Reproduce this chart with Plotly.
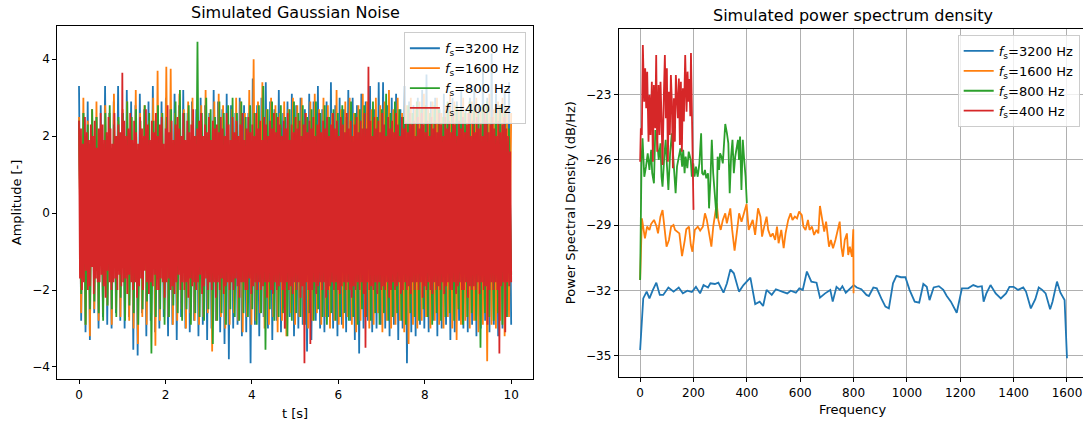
import numpy as np
import plotly.graph_objects as go

W, H = 1083, 423
C_BLUE, C_ORANGE, C_GREEN, C_RED = "#1f77b4", "#ff7f0e", "#2ca02c", "#d62728"
FONT = "DejaVu Sans"

labels = ["<i>f</i><sub>s</sub>=3200 Hz", "<i>f</i><sub>s</sub>=1600 Hz",
          "<i>f</i><sub>s</sub>=800 Hz", "<i>f</i><sub>s</sub>=400 Hz"]

# ---- left panel: noise amplitudes (hand-read, decimated) ----
noise_3200 = [3.3,-2.8,2.6,-3.1,2.9,-3.3,2.7,-2.6,2.5,-3.0,2.8,-2.7,3.3,-2.9,2.6,-3.0,2.9,-2.6,3.3,-2.8,
              2.6,-3.0,3.2,-2.7,2.9,-3.55,2.8,-3.7,3.1,-2.6,2.7,-3.2,2.9,-2.8,3.3,-3.1,2.6,-3.0,2.9,-2.7,
              3.0,-3.2,2.7,-2.9,3.1,-3.3,2.8,-2.7,3.2,-3.0,2.6,-3.1,2.9,-2.8,2.7,-3.2,3.0,-2.9,2.8,-3.3,
              2.6,-3.0,3.2,-2.8,2.9,-3.1,2.7,-3.4,3.1,-3.8,2.8,-3.0,2.6,-2.9,3.0,-3.2,2.8,-3.1,2.6,-3.9,
              3.5,-2.9,2.8,-3.2,3.0,-2.7,3.4,-3.0,2.9,-3.3,2.7,-2.8,3.2,-3.1,2.6,-3.0,2.9,-2.7,3.1,-3.2,
              2.8,-3.0,3.0,-2.9,2.7,-3.6,3.1,-3.3,2.9,-2.8,3.3,-3.0,2.7,-3.1,2.9,-2.7,3.4,-3.0,2.8,-3.2,
              3.0,-2.9,2.7,-3.1,3.2,-2.8,3.0,-3.3,2.8,-3.65,3.1,-3.0,2.9,-2.8,3.3,-3.1,2.7,-3.0,3.4,-2.9,
              3.4,-3.0,2.8,-3.2,3.0,-2.9,3.1,-3.3,2.7,-3.0,3.3,-3.9,2.9,-3.1,2.8,-3.2,3.0,-2.9,3.2,-3.0,
              3.6,-3.1,2.9,-2.8,3.0,-3.2,2.7,-3.0,3.1,-2.9,2.8,-3.3,3.0,-3.1,2.9,-2.8,3.2,-3.0,2.7,-3.1,
              3.0,-2.9,3.3,-3.2,2.8,-3.0,3.8,-2.8,3.0,-3.1,4.15,-2.9,3.1,-3.2,2.8,-3.0,3.2,-2.7,3.4,-2.9]
noise_1600 = [2.5,-2.6,3.0,-2.9,2.4,-3.2,2.7,-2.5,2.9,-2.8,2.3,-2.6,2.8,-2.4,2.6,-2.9,3.1,-2.5,2.4,-2.7,
              2.7,-2.5,2.9,-2.8,2.5,-3.0,3.2,-3.4,2.6,-2.7,2.8,-2.9,2.4,-2.6,3.0,-3.45,3.7,-2.8,2.6,-2.5,
              3.8,-2.7,3.75,-2.9,2.6,-2.8,3.1,-2.5,2.7,-3.0,2.9,-2.6,3.0,-2.8,2.5,-2.9,2.8,-2.7,3.2,-2.6,
              2.6,-3.6,2.9,-2.8,3.1,-2.7,2.8,-3.0,2.5,-2.9,2.7,-2.6,3.0,-2.8,2.9,-3.1,2.6,-2.7,3.2,-2.9,
              4.0,-2.8,2.9,-2.6,3.4,-3.0,2.7,-2.9,3.0,-2.7,2.8,-3.1,2.6,-2.8,2.9,-3.2,2.7,-2.6,3.0,-2.9,
              2.8,-2.7,3.0,-2.9,2.6,-3.0,2.9,-2.8,3.1,-2.6,2.7,-2.9,3.0,-2.7,2.8,-3.0,2.6,-2.8,3.2,-2.9,
              2.7,-3.0,2.9,-2.7,3.0,-2.9,2.6,-3.1,2.8,-2.8,3.1,-2.7,2.9,-3.0,2.7,-2.9,3.0,-2.6,2.8,-3.1,
              2.9,-2.8,3.2,-3.0,2.7,-2.9,3.0,-2.8,2.6,-3.1,2.8,-3.4,3.0,-2.9,2.7,-3.0,2.9,-2.8,3.1,-2.7,
              2.7,-3.0,2.9,-2.8,3.0,-2.9,2.6,-3.0,2.8,-2.7,3.1,-3.0,2.9,-3.3,2.7,-2.9,3.0,-2.8,2.6,-3.0,
              2.9,-2.8,3.0,-3.1,2.7,-2.9,2.8,-3.85,3.1,-2.9,2.7,-3.0,2.9,-2.8,3.0,-3.2,2.8,-2.7,2.6]
noise_800 = [2.4,-2.1,2.6,-2.9,2.3,-2.5,2.7,-2.3,2.5,-2.6,2.2,-2.8,2.6,-2.4,2.8,-2.5,2.3,-2.7,2.5,-2.2,
             2.6,-2.8,2.9,-2.4,2.5,-2.6,2.7,-2.9,2.4,-2.5,2.8,-2.3,2.6,-3.65,2.4,-2.7,2.8,-2.5,2.6,-2.9,
             2.5,-2.7,2.7,-2.4,2.9,-2.6,3.2,-2.8,2.6,-2.5,2.8,-2.9,2.4,-2.6,4.45,-2.7,2.6,-2.8,3.0,-2.5,
             2.7,-3.4,2.5,-2.8,2.9,-2.6,2.6,-2.9,2.8,-2.5,3.0,-2.7,2.6,-2.8,2.9,-2.6,2.5,-2.7,2.8,-2.5,
             2.6,-2.9,2.8,-2.6,3.3,-3.55,2.7,-2.5,2.9,-2.8,2.6,-2.7,2.8,-2.6,2.5,-3.2,2.7,-2.8,2.9,-2.6,
             2.6,-2.7,2.8,-2.9,2.5,-2.6,2.7,-2.8,2.9,-2.5,2.6,-2.7,2.8,-2.9,2.5,-2.6,2.7,-2.8,2.6,-2.7,
             2.8,-2.6,2.5,-2.8,2.9,-2.7,2.6,-2.9,2.7,-2.5,2.8,-2.7,2.6,-2.8,2.9,-2.6,2.5,-2.9,2.7,-2.6,
             3.1,-2.8,2.6,-2.7,2.9,-2.6,2.7,-2.8,2.5,-2.9,2.8,-2.6,2.6,-2.7,2.9,-2.8,2.7,-2.5,2.8,-2.7,
             2.6,-2.9,2.8,-2.6,2.7,-2.8,2.5,-2.7,2.9,-2.6,2.6,-2.8,2.8,-2.5,2.7,-2.9,2.6,-2.7,2.9,-2.6,
             2.7,-2.8,2.6,-3.5,2.8,-2.6,2.9,-2.7,2.5,-2.8,2.7,-2.6,2.8,-2.9,2.6,-2.7,2.2,-1.6]
noise_400 = [2.4,-1.7,2.2,-2.0,1.8,-1.8,2.5,-1.5,2.1,-2.0,1.9,-1.9,2.3,-1.4,2.0,-2.1,2.4,-1.7,1.7,-1.8,
             2.2,-1.8,2.6,-1.6,2.3,-1.9,1.9,-2.2,2.1,-1.5,2.5,-1.8,2.2,-2.0,1.8,-1.8,2.6,-1.7,2.0,-2.0,
             2.3,-1.6,2.1,-1.9,3.65,-1.8,2.4,-1.7,2.0,-2.1,2.2,-1.6,2.6,-1.8,1.9,-2.0,2.4,-1.8,2.1,-2.2,
             1.8,-1.9,2.5,-1.7,2.2,-2.0,2.0,-1.5,2.7,-1.8,2.3,-2.1,1.9,-1.8,2.4,-1.9,2.1,-1.6,2.6,-2.0,
             2.0,-2.0,2.3,-1.7,2.5,-1.8,1.8,-2.2,2.2,-1.8,2.8,-1.7,2.1,-2.0,2.4,-1.9,1.9,-2.1,2.3,-1.8,
             2.5,-1.6,2.2,-2.0,2.0,-1.8,2.6,-2.0,1.9,-1.8,2.4,-2.2,2.1,-1.7,2.3,-1.9,2.7,-1.8,2.0,-2.0,
             2.2,-1.8,2.4,-1.6,2.6,-2.1,2.0,-1.9,2.3,-1.7,2.1,-2.0,2.5,-1.8,1.9,-2.0,2.4,-1.8,2.2,-2.2,
             2.3,-1.8,2.1,-2.0,2.5,-1.7,2.2,-2.1,2.0,-1.9,2.6,-1.8,2.3,-2.0,1.9,-1.8,2.5,-2.0,2.1,-1.7,
             2.4,-1.9,2.0,-2.2,2.3,-1.8,2.6,-1.8,1.9,-2.0,2.2,-2.0,2.5,-1.7,2.1,-2.1,2.3,-1.9,2.0,-1.8,
             2.6,-2.0,2.2,-1.8,2.4,-2.0,1.9,-1.9,2.5,-1.8,2.3,-2.2,2.0,-1.8,2.4,-2.0,2.2,-2.1,2.6,-1.8,
             2.1,-2.0,2.5,-1.9,2.3,-1.8,2.0,-2.0,2.4,-3.0,2.2,-1.8,2.6,-2.0,1.9,-1.9,2.3,-2.1,2.1,-1.8,
             2.5,-2.0,2.2,-1.8,2.4,-2.2,2.0,-1.9,2.3,-3.9,2.6,-1.8,2.1,-2.0,2.4,-3.4,2.2,-2.0,2.5,-1.8,
             2.0,-2.1,2.3,-1.9,2.6,-1.8,2.1,-2.0,2.4,-1.8,2.2,-2.2,2.5,-2.0,2.0,-1.9,2.3,-1.8,2.6,-2.0,
             2.2,-1.8,2.4,-2.0,2.0,-2.1,2.5,-1.9,2.3,-1.8,2.1,-2.0,2.6,-1.8,2.2,-2.0,2.4,-2.2,2.0,-1.9,
             2.3,-2.0,2.5,-1.8,2.1,-2.0,2.4,-1.8,2.2,-2.1,2.6,-3.5,2.2,-1.8,3.8,-2.0,2.4,-1.9,2.0,-2.0,
             2.5,-1.8,2.2,-2.1,2.4,-1.8,2.1,-2.0,2.6,-1.9,2.3,-2.0,2.0,-1.8,2.5,-2.2,2.2,-2.0,2.4,-1.8,
             2.1,-2.0,2.6,-1.9,2.3,-1.8,2.0,-2.1,2.5,-2.0,2.2,-1.8,2.4,-2.0,2.1,-1.9,2.6,-2.1,2.3,-1.8,
             2.4,-2.0,2.0,-1.8,2.5,-2.0,2.2,-1.8,2.6,-2.2,2.3,-1.9,2.1,-2.0,2.4,-1.8,2.0,-2.0,2.5,-2.1,
             2.2,-1.8,2.4,-2.0,2.1,-1.9,2.6,-2.0,2.3,-1.8,2.0,-2.1,2.5,-1.9,2.2,-1.8,2.4,-2.0,2.1,-2.0,
             2.6,-1.8,2.3,-2.1,2.0,-1.9,2.4,-1.8,2.2,-2.0,2.5,-2.0,2.1,-1.8,2.3,-2.2,2.6,-1.9,2.0,-2.0,
             2.4,-1.9,2.1,-2.0,2.5,-1.8,2.2,-2.1,2.3,-1.8,2.0,-2.0,2.6,-1.9,2.4,-2.9,2.1,-2.0,2.3,-1.8,
             2.5,-2.0,2.2,-1.8,2.0,-2.0,2.4,-3.65,2.1,-1.9,2.3,-1.8,2.5,-3.1,2.2,-1.8,2.0,-1.9,1.6,-1.8]

# ---- right panel: PSD (dB/Hz) ----
psd3200_f = [0, 11.6, 24.5, 34.9, 47.8, 60.7, 73.6, 86.5, 105.9, 125.3,
             144.6, 160.1, 176.9, 193.7, 209.2, 224.7, 237.6, 254.4, 263.4, 280.2,
             293.1, 312.5, 325.4, 338.3, 351.2, 370.6, 387.4, 413.2, 431.3, 448.1,
             461.0, 473.9, 493.3, 508.8, 532.0, 551.4, 564.3, 583.7, 596.6, 609.5,
             625.0, 641.8, 661.2, 674.1, 693.4, 712.8, 721.8, 736.0, 748.9, 758.0,
             770.9, 790.3, 800.6, 812.2, 829.0, 848.4, 857.4, 874.2, 887.1, 903.9,
             919.4, 932.3, 947.8, 960.7, 977.5, 994.3, 1009.8, 1029.2, 1046.0, 1061.5,
             1074.4, 1084.7, 1100.2, 1119.6, 1136.4, 1149.3, 1164.8, 1186.7, 1206.1, 1229.3,
             1248.7, 1265.5, 1281.0, 1287.5, 1297.8, 1313.3, 1332.6, 1352.0, 1371.4, 1384.3,
             1399.8, 1416.6, 1436.0, 1446.3, 1464.4, 1481.2, 1494.1, 1507.0, 1519.9, 1536.7,
             1545.7, 1562.5, 1575.4, 1591.0, 1600]
psd3200_db = [-34.73, -32.36, -32.05, -32.36, -31.97, -31.64, -32.2, -32.2, -31.86, -32.05,
              -31.86, -32.13, -32.01, -32.07, -31.83, -32.13, -31.75, -31.86, -31.67, -31.70,
              -31.64, -32.1, -31.67, -31.03, -31.21, -32.05, -31.75, -31.41, -32.62, -32.51,
              -32.71, -31.97, -32.2, -31.94, -32.05, -32.13, -32.01, -32.1, -31.9, -31.97,
              -31.13, -31.59, -31.64, -32.33, -32.13, -31.97, -32.51, -31.83, -31.97, -31.8,
              -32.1, -31.86, -31.75, -31.86, -31.94, -32.2, -32.25, -31.86, -31.9, -32.36,
              -32.74, -32.82, -31.67, -31.33, -31.39, -31.39, -31.97, -32.51, -32.56, -31.7,
              -31.83, -32.44, -31.86, -31.8, -31.97, -32.25, -32.51, -33.02, -31.9, -31.9,
              -31.75, -31.83, -31.8, -32.51, -32.13, -31.75, -32.13, -32.36, -32.13, -31.83,
              -31.83, -31.97, -31.86, -32.05, -32.82, -32.4, -31.86, -31.97, -32.13, -32.86,
              -32.51, -31.59, -32.1, -32.44, -35.11]

psd1600_f = [0, 6.5, 18, 26, 35, 41, 52, 61, 67, 76,
             84, 93, 99, 108, 116, 125, 131, 147, 157, 167,
             173, 183, 190, 196, 205, 216, 225, 235, 243, 250,
             258, 267, 274, 280, 287, 293, 302, 310, 319, 325,
             338, 345, 354, 362, 371, 380, 390, 399, 407, 416,
             422, 431, 442, 451, 457, 465, 474, 480, 489, 497,
             506, 513, 519, 529, 538, 545, 555, 564, 571, 580,
             588, 596, 606, 612, 620, 629, 635, 644, 652, 661,
             668, 674, 682, 690, 697, 702, 708, 715, 723, 732,
             741, 748, 754, 760, 767, 775, 780, 786, 794, 799, 800]
psd1600_db = [-31.52, -28.69, -29.61, -29.07, -29.22, -28.95, -28.76, -29.04, -29.38, -28.61,
              -28.31, -29.22, -29.99, -29.68, -29.07, -28.99, -29.22, -29.38, -30.42, -29.71,
              -29.19, -29.07, -29.91, -30.22, -29.22, -29.07, -29.25, -29.07, -28.46, -28.76,
              -29.38, -29.99, -29.07, -28.46, -28.0, -28.76, -29.22, -28.76, -28.46, -28.92,
              -28.23, -29.22, -30.17, -29.38, -28.46, -28.84, -28.43, -28.03, -29.22, -28.92,
              -28.76, -29.45, -28.23, -28.61, -29.53, -29.07, -28.61, -29.22, -29.53, -29.38,
              -29.68, -29.07, -29.83, -29.22, -30.06, -29.38, -28.76, -28.46, -28.76, -28.61,
              -28.69, -28.38, -28.54, -29.07, -29.22, -28.76, -29.22, -29.07, -29.45, -29.22,
              -29.38, -28.12, -28.76, -29.30, -28.84, -29.45, -29.99, -29.68, -30.06, -29.68,
              -29.22, -28.84, -29.99, -30.45, -29.68, -29.38, -30.37, -29.99, -30.45, -29.19, -32.13]

psd800_f = [0, 5.2, 9.0, 15.5, 22.0, 28.4, 34.9, 41.3, 45.2, 51.7,
            56.8, 63.3, 69.7, 76.2, 80.1, 83.9, 90.4, 95.6, 100.7, 105.9,
            112.3, 118.8, 124.0, 127.8, 133.0, 138.2, 144.6, 151.1, 157.5, 161.4,
            166.6, 170.5, 176.9, 182.1, 189.8, 193.7, 198.9, 204.0, 209.2, 215.7,
            222.1, 228.6, 232.4, 237.6, 242.8, 247.9, 254.4, 258.3, 263.4, 268.6,
            273.8, 280.2, 286.7, 290.5, 295.7, 299.6, 304.8, 309.9, 315.1, 319.0,
            325.4, 330.6, 335.7, 340.9, 346.1, 351.2, 356.4, 361.6, 366.7, 370.6,
            374.5, 379.7, 384.8, 390.0, 395.2, 400]
psd800_db = [-31.52, -26.01, -25.02, -26.78, -26.32, -25.71, -26.47, -25.55, -26.62, -27.08,
             -24.64, -25.09, -26.01, -25.25, -26.78, -27.24, -25.86, -25.09, -26.32, -27.39,
             -25.71, -24.79, -25.86, -26.78, -27.54, -26.32, -25.86, -25.48, -26.32, -25.55,
             -26.62, -25.86, -26.39, -25.63, -26.01, -26.78, -26.17, -26.78, -26.32, -26.78,
             -26.17, -24.79, -26.62, -26.70, -26.47, -26.85, -26.62, -28.23, -26.93, -25.09,
             -26.62, -27.85, -28.69, -25.86, -26.47, -25.71, -25.86, -26.17, -24.79, -24.36,
             -24.79, -25.25, -27.54, -25.86, -25.09, -26.62, -25.86, -25.55, -25.09, -26.01,
             -24.94, -27.39, -25.09, -26.01, -26.78, -28.0]

psd400_f = [0, 2.6, 6.4, 10.1, 15.1, 18.9, 22.7, 26.4, 31.4, 35.2,
            38.9, 43.9, 47.7, 51.4, 56.4, 60.2, 63.9, 68.9, 72.7, 76.4,
            80.2, 83.9, 88.9, 92.7, 96.4, 100.2, 103.9, 107.7, 111.4, 115.2,
            118.9, 122.7, 126.4, 130.2, 133.9, 137.7, 141.4, 145.2, 148.9, 152.7,
            156.4, 160.2, 163.9, 168.9, 173.9, 177.7, 181.4, 184.5, 188.0, 190.5,
            193.5, 196.4, 200]
psd400_db = [-26.09, -24.56, -24.87, -20.74, -23.34, -21.81, -23.64, -21.96, -25.17, -23.03,
             -24.87, -22.42, -26.09, -22.57, -24.56, -21.2, -25.63, -22.57, -24.87, -22.42,
             -24.1, -26.24, -23.03, -21.2, -24.1, -21.81, -26.09, -22.88, -24.87, -22.11,
             -23.34, -26.39, -23.18, -25.17, -22.11, -22.88, -24.1, -22.27, -25.32, -22.42,
             -25.63, -22.72, -24.25, -21.2, -23.8, -21.96, -23.34, -22.3, -24.0, -21.1,
             -23.3, -24.1, -28.3]

left_xticks = [0, 2, 4, 6, 8, 10]
left_yticks = [-4, -2, 0, 2, 4]
right_xticks = [0, 200, 400, 600, 800, 1000, 1200, 1400, 1600]
right_yticks = [-35, -32, -29, -26, -23]


def lab(v):
    return str(v).replace("-", "\u2212")


fig = go.Figure()
colors = [C_BLUE, C_ORANGE, C_GREEN, C_RED]
for series, c, name in zip([noise_3200, noise_1600, noise_800, noise_400], colors, labels):
    t = np.linspace(0, 10, len(series))
    fig.add_trace(go.Scatter(x=t, y=series, mode="lines", name=name,
                             line=dict(color=c, width=1.8, simplify=False),
                             xaxis="x", yaxis="y", legend="legend", hoverinfo="skip"))

for fx, db, c, name in zip([psd3200_f, psd1600_f, psd800_f, psd400_f],
                           [psd3200_db, psd1600_db, psd800_db, psd400_db], colors, labels):
    fig.add_trace(go.Scatter(x=fx, y=db, mode="lines", name=name,
                             line=dict(color=c, width=1.8),
                             xaxis="x2", yaxis="y2", legend="legend2", hoverinfo="skip"))

ax_common = dict(showline=True, linecolor="black", linewidth=1, ticks="outside",
                 ticklen=4, tickwidth=1, tickcolor="black", zeroline=False,
                 tickfont=dict(family=FONT, size=12, color="black"))

fig.update_layout(
    width=W, height=H, margin=dict(l=0, r=0, t=0, b=0),
    paper_bgcolor="white", plot_bgcolor="white",
    font=dict(family=FONT, size=12, color="black"),
    xaxis=dict(domain=[57.4 / W, 532.8 / W], range=[-0.5, 10.5], anchor="y",
               tickvals=left_xticks, ticktext=[lab(v) for v in left_xticks],
               mirror=True, showgrid=False, **ax_common),
    yaxis=dict(domain=[(H - 379.3) / H, (H - 25.7) / H], range=[-4.32, 4.87], anchor="x",
               tickvals=left_yticks, ticktext=[lab(v) for v in left_yticks],
               mirror=True, showgrid=False, **ax_common),
    xaxis2=dict(domain=[618.8 / W, 1.0], range=[-80, 1660], anchor="y2",
                tickvals=right_xticks, ticktext=[lab(v) for v in right_xticks],
                mirror=True, showgrid=True, gridcolor="#b0b0b0", gridwidth=1.2, **ax_common),
    yaxis2=dict(domain=[(H - 377.3) / H, (H - 28.7) / H], range=[-35.98, -19.99], anchor="x2",
                tickvals=right_yticks, ticktext=[lab(v) for v in right_yticks],
                mirror=False, showgrid=True, gridcolor="#b0b0b0", gridwidth=1.2, **ax_common),
    legend=dict(x=525.9 / W, xanchor="right", y=(H - 32.3) / H, yanchor="top",
                bgcolor="rgba(255,255,255,0.8)", bordercolor="#cccccc", borderwidth=1,
                font=dict(family=FONT, size=13, color="black")),
    legend2=dict(x=1079.7 / W, xanchor="right", y=(H - 35) / H, yanchor="top",
                 bgcolor="rgba(255,255,255,0.8)", bordercolor="#cccccc", borderwidth=1,
                 font=dict(family=FONT, size=13, color="black")),
    showlegend=True,
)

ann = [
    ("Simulated Gaussian Noise", 295, 12.3, 0, 16),
    ("Simulated power spectrum density", 852.5, 15.7, 0, 16),
    ("Amplitude [-]", 16.7, 202.5, -90, 13),
    ("t [s]", 295, 413, 0, 13),
    ("Power Spectral Density (dB/Hz)", 570.7, 202.5, -90, 13),
    ("Frequency", 852.8, 409.3, 0, 13),
]
for text, px, py, ang, sz in ann:
    fig.add_annotation(text=text, x=px / W, y=(H - py) / H, xref="paper", yref="paper",
                       xanchor="center", yanchor="middle", showarrow=False, textangle=ang,
                       font=dict(family=FONT, size=sz, color="black"))

fig.write_html("out.html")
